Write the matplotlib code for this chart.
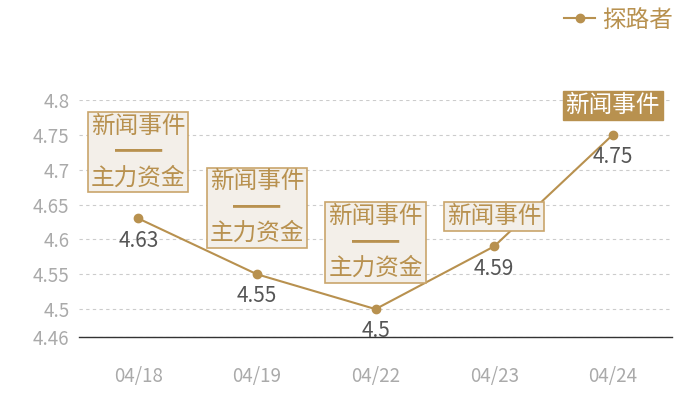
import matplotlib
matplotlib.use('Agg')
import matplotlib.pyplot as plt

plt.rcParams['font.family'] = ['Noto Sans CJK SC', 'DejaVu Sans']

# data
dates = ['04/18', '04/19', '04/22', '04/23', '04/24']
prices = [4.63, 4.55, 4.5, 4.59, 4.75]
events = ['新闻事件\n━━\n主力资金', '新闻事件\n━━\n主力资金', '新闻事件\n━━\n主力资金',
          '新闻事件', '新闻事件']
highlight = [False, False, False, False, True]
yticks = [4.46, 4.5, 4.55, 4.6, 4.65, 4.7, 4.75, 4.8]
series_name = '探路者'

gold = '#b8914f'
box_fill = '#f3efe9'
box_edge = '#c9a56c'

fig = plt.figure(figsize=(7, 4), dpi=100)
ax = fig.add_axes([0.113, 0.1575, 0.847, 0.5925])

x = list(range(len(dates)))
ax.plot(x, prices, color=gold, lw=1.5, marker='o', ms=6, label=series_name, zorder=3)

ax.set_xlim(-0.5, len(dates) - 0.5)
ax.set_ylim(4.46, 4.8)
ax.set_xticks(x)
ax.set_xticklabels(dates)
ax.set_yticks(yticks)
ax.set_yticklabels([f'{v:g}' for v in yticks])
ax.tick_params(axis='both', length=0, colors='#aaaaaa', labelsize=13.5)
ax.tick_params(axis='x', pad=21)
ax.tick_params(axis='y', pad=7)

for s in ['top', 'right', 'left']:
    ax.spines[s].set_visible(False)
ax.spines['bottom'].set_color('#333333')
ax.spines['bottom'].set_linewidth(1)
ax.yaxis.grid(True, color='#cccccc', linestyle=(0, (3, 3)), lw=0.8)
ax.set_axisbelow(True)

# value labels
for i, v in enumerate(prices):
    ax.annotate(f'{v:g}', (i, v), xytext=(0, -16), textcoords='offset points',
                ha='center', va='center', fontsize=15, color='#555555')

# event boxes
for i, (v, ev, hl) in enumerate(zip(prices, events, highlight)):
    off = 21 if '\n' in ev else 13
    if hl:
        bb = dict(boxstyle='square,pad=0.12', fc=gold, ec=gold, lw=1)
        tc = 'white'
    else:
        bb = dict(boxstyle='square,pad=0.12', fc=box_fill, ec=box_edge, lw=1.2)
        tc = gold
    ax.annotate(ev, (i, v), xytext=(0, off), textcoords='offset points',
                ha='center', va='bottom', multialignment='center',
                fontsize=17, color=tc, linespacing=1.16, bbox=bb,
                annotation_clip=False, zorder=4)

leg = ax.legend(loc='upper right', bbox_to_anchor=(0.985, 1.02),
                bbox_transform=fig.transFigure, frameon=False, fontsize=17,
                handlelength=1.3, handletextpad=0.3, borderpad=0.2)
for t in leg.get_texts():
    t.set_color(gold)

fig.savefig('out.png', dpi=100)
